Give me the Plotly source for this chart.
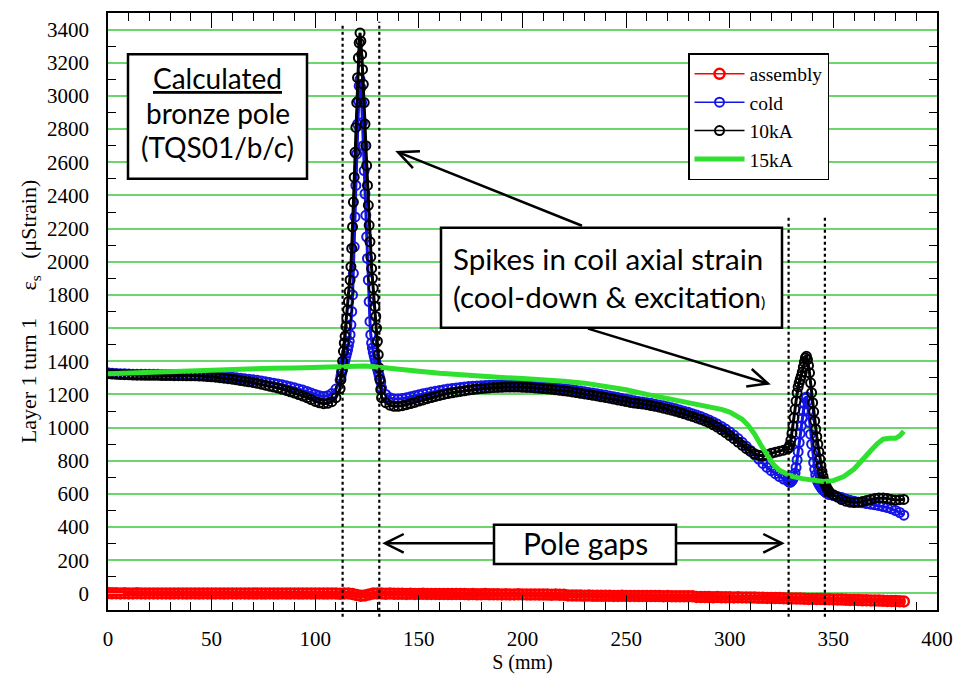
import math
import plotly.graph_objects as go

# ---------------- data ----------------
# shared sample positions (mm) for "cold" and "10kA", split in segments
S_A = [0, 2, 4, 6, 8, 10, 12, 14, 16, 18, 20, 22, 24, 26, 28, 30, 32, 34, 36, 38,
       40, 42, 44, 46, 48, 50, 52, 54, 56, 58, 60, 62, 64, 66, 68, 70, 72, 74, 76, 78,
       80, 82, 84, 86, 88, 90, 92, 94, 96, 98, 100, 102, 104, 106, 108, 110, 112]
K10_A = [1325, 1323, 1321, 1320, 1319, 1318, 1317, 1316, 1316, 1315, 1315, 1315, 1315, 1314, 1314,
         1314, 1313, 1313, 1313, 1312, 1312, 1312, 1311, 1310, 1308, 1306, 1304, 1301, 1298, 1295,
         1292, 1288, 1284, 1280, 1276, 1272, 1267, 1262, 1256, 1250, 1244, 1238, 1231, 1224, 1216,
         1208, 1199, 1190, 1180, 1169, 1158, 1149, 1144, 1146, 1156, 1180, 1235]
COLD_A = [1330, 1328, 1326, 1325, 1324, 1323, 1322, 1322, 1321, 1321, 1321, 1321, 1321, 1320, 1320,
          1320, 1320, 1320, 1320, 1319, 1319, 1319, 1318, 1317, 1316, 1315, 1313, 1311, 1309, 1306,
          1304, 1301, 1298, 1295, 1292, 1288, 1285, 1281, 1277, 1272, 1268, 1263, 1258, 1252, 1246,
          1240, 1233, 1226, 1218, 1209, 1200, 1192, 1188, 1192, 1205, 1232, 1285]

S_P1 = [112.4, 112.8, 113.2, 113.6, 114.0, 114.4, 114.8, 115.2, 115.6, 116.0,
        116.4, 116.8, 117.2, 117.6, 118.0, 118.4, 118.8, 119.2, 119.6, 120.0,
        120.4, 120.8, 121.2, 121.6, 122.0, 122.4, 122.8, 123.2, 123.6, 124.0,
        124.4, 124.8, 125.2, 125.6, 126.0, 126.4, 126.8, 127.2, 127.6, 128.0,
        128.4, 128.8, 129.2, 129.6, 130.0, 130.4, 130.8, 131.2, 131.6]
K10_P1 = [1290, 1340, 1400, 1460, 1510, 1550, 1610, 1660, 1710, 1760,
          1820, 1890, 1970, 2080, 2210, 2360, 2510, 2660, 2810, 2960,
          3110, 3230, 3320, 3380, 3330, 3250, 3160, 3070, 2960, 2830,
          2700, 2580, 2460, 2340, 2220, 2120, 2030, 1960, 1900, 1840,
          1780, 1730, 1670, 1600, 1520, 1440, 1360, 1290, 1230]
COLD_P1 = [1310, 1330, 1350, 1370, 1390, 1410, 1430, 1450, 1470, 1495,
           1520, 1560, 1620, 1700, 1800, 1930, 2090, 2270, 2460, 2650,
           2830, 2970, 3060, 3100, 3050, 2960, 2840, 2700, 2550, 2410,
           2280, 2150, 2020, 1890, 1760, 1640, 1560, 1510, 1480, 1455,
           1435, 1415, 1395, 1375, 1355, 1335, 1315, 1295, 1275]

S_B = [132, 134, 136, 138, 140, 142, 144, 146, 148, 150, 152, 154, 156, 158, 160, 162, 164, 166,
       168, 170, 172, 174, 176, 178, 180, 182, 184, 186, 188, 190, 192, 194, 196, 198, 200, 202,
       204, 206, 208, 210, 212, 214, 216, 218, 220, 222, 224, 226, 228, 230, 232, 234, 236, 238,
       240, 242, 244, 246, 248, 250, 252, 254, 256, 258, 260, 262, 264, 266, 268, 270, 272, 274,
       276, 278, 280, 282, 284, 286, 288, 290, 292, 294, 296, 298, 300, 302, 304, 306, 308, 310,
       312, 314, 316, 318, 320, 322, 324, 326, 328]
K10_B = [1180, 1150, 1135, 1128, 1128, 1132, 1138, 1145, 1152, 1160,
         1167, 1174, 1181, 1188, 1194, 1200, 1205, 1210, 1214, 1218,
         1222, 1226, 1229, 1232, 1235, 1237, 1239, 1241, 1242, 1243,
         1244, 1244, 1244, 1244, 1243, 1242, 1241, 1239, 1237, 1235,
         1233, 1231, 1228, 1225, 1222, 1219, 1215, 1211, 1207, 1203,
         1199, 1195, 1191, 1186, 1182, 1177, 1172, 1167, 1162, 1157,
         1152, 1148, 1145, 1142, 1138, 1133, 1128, 1123, 1117, 1111,
         1105, 1098, 1091, 1083, 1075, 1067, 1058, 1050, 1040, 1030,
         1017, 1003, 987, 970, 952, 933, 913, 893, 873, 856,
         842, 833, 830, 836, 845, 852, 858, 864, 872]
COLD_B = [1240, 1200, 1180, 1172, 1172, 1175, 1180, 1186, 1192, 1198,
          1204, 1209, 1214, 1219, 1224, 1228, 1232, 1236, 1239, 1242,
          1245, 1247, 1249, 1251, 1253, 1254, 1255, 1256, 1257, 1257,
          1257, 1257, 1257, 1256, 1255, 1254, 1253, 1251, 1249, 1247,
          1245, 1243, 1240, 1237, 1234, 1231, 1228, 1224, 1220, 1216,
          1212, 1208, 1204, 1200, 1196, 1191, 1186, 1181, 1176, 1171,
          1166, 1162, 1158, 1154, 1150, 1146, 1141, 1136, 1131, 1125,
          1119, 1113, 1106, 1099, 1092, 1084, 1076, 1067, 1057, 1046,
          1034, 1021, 1007, 991, 974, 955, 934, 911, 887, 862,
          836, 810, 784, 760, 740, 722, 705, 690, 678]

S_P2 = [328.5, 329.0, 329.5, 330.0, 330.5, 331.0, 331.5, 332.0, 332.5, 333.0,
        333.5, 334.0, 334.5, 335.0, 335.5, 336.0, 336.5, 337.0, 337.5, 338.0,
        338.5, 339.0, 339.5, 340.0, 340.5, 341.0, 341.5, 342.0, 342.5, 343.0,
        343.5, 344.0, 344.5, 345.0, 345.5, 346.0, 346.5, 347.0, 347.5]
K10_P2 = [880, 895, 925, 965, 1010, 1060, 1110, 1160, 1210, 1245,
          1270, 1290, 1310, 1335, 1365, 1395, 1420, 1430, 1410, 1375,
          1330, 1270, 1210, 1150, 1095, 1040, 990, 945, 900, 855,
          810, 770, 735, 705, 680, 660, 645, 632, 622]
COLD_P2 = [672, 670, 672, 680, 690, 705, 725, 760, 805, 855,
           910, 965, 1010, 1055, 1100, 1145, 1175, 1185, 1160, 1100,
           1030, 960, 900, 840, 790, 748, 715, 690, 672, 660,
           650, 640, 632, 624, 618, 613, 608, 604, 600]

S_C = [348, 350, 352, 354, 356, 358, 360, 362, 364, 366, 368, 370, 372, 374, 376, 378, 380, 382, 384]
K10_C = [612, 595, 580, 566, 556, 550, 548, 550, 554, 560, 566, 572, 576, 576, 572, 566, 564, 565, 567]
COLD_C = [596, 590, 585, 578, 570, 562, 556, 550, 546, 542, 538, 534, 530, 524, 518, 510, 500, 488, 472]

# 15kA (line only)
S_15 = [0, 10, 20, 30, 40, 50, 60, 70, 80, 90, 100, 110, 118, 124, 130, 140, 150, 160, 170, 180,
        190, 200, 210, 220, 230, 240, 250, 260, 270, 280, 290, 296, 300, 303, 306, 309, 312, 315,
        318, 321, 324, 327, 330, 335, 340, 345, 350, 355, 360, 364, 368, 371, 374, 377, 380, 382, 384]
K15 = [1325, 1330, 1335, 1340, 1345, 1350, 1352, 1355, 1358, 1360, 1363, 1367, 1372, 1372, 1365,
       1350, 1340, 1328, 1318, 1310, 1302, 1296, 1290, 1280, 1268, 1250, 1228, 1200, 1175, 1150,
       1128, 1110, 1093, 1075, 1050, 1012, 960, 895, 830, 778, 742, 720, 706, 692, 684, 675, 680,
       705, 750, 800, 860, 900, 930, 935, 935, 950, 978]

# assembly
S_ASM = [0, 2, 4, 6, 8, 10, 12, 14, 16, 18, 20,
         22, 24, 26, 28, 30, 32, 34, 36, 38, 40,
         42, 44, 46, 48, 50, 52, 54, 56, 58, 60,
         62, 64, 66, 68, 70, 72, 74, 76, 78, 80,
         82, 84, 86, 88, 90, 92, 94, 96, 98, 100,
         102, 104, 106, 108, 110, 112, 114, 116, 118, 120,
         122, 124, 126, 128, 130, 132, 134, 136, 138, 140,
         142, 144, 146, 148, 150, 152, 154, 156, 158, 160,
         162, 164, 166, 168, 170, 172, 174, 176, 178, 180,
         182, 184, 186, 188, 190, 192, 194, 196, 198, 200,
         202, 204, 206, 208, 210, 212, 214, 216, 218, 220,
         222, 224, 226, 228, 230, 232, 234, 236, 238, 240,
         242, 244, 246, 248, 250, 252, 254, 256, 258, 260,
         262, 264, 266, 268, 270, 272, 274, 276, 278, 280,
         282, 284, 286, 288, 290, 292, 294, 296, 298, 300,
         302, 304, 306, 308, 310, 312, 314, 316, 318, 320,
         322, 324, 326, 328, 330, 332, 334, 336, 338, 340,
         342, 344, 346, 348, 350, 352, 354, 356, 358, 360,
         362, 364, 366, 368, 370, 372, 374, 376, 378, 380,
         382, 384]
ASM = [2, 1, 1, 0, 1, 0, 0, 1, 0, 0, 0,
       0, 0, 0, 0, -1, 0, 0, 0, -1, 0,
       0, -1, 0, 0, -1, 0, 0, -1, 0, 0,
       -1, 0, 0, -1, 0, 0, -1, -1, 0, -1,
       -1, 0, -1, -1, 0, -1, -1, 0, -1, -1,
       0, -1, -1, 0, -1, -2, -1, 0, -4, -10,
       -14, -12, -6, -1, 0, -1, -2, -1, -2, -2,
       -2, -3, -2, -3, -3, -2, -3, -3, -3, -4,
       -3, -4, -4, -3, -4, -4, -5, -4, -5, -5,
       -4, -5, -5, -5, -6, -5, -6, -6, -5, -6,
       -6, -7, -6, -7, -7, -7, -8, -7, -8, -8,
       -12, -13, -13, -13, -14, -13, -14, -14, -14, -14,
       -14, -15, -15, -14, -15, -15, -15, -16, -15, -16,
       -16, -16, -16, -17, -16, -17, -17, -17, -17, -17,
       -17, -21, -22, -22, -22, -23, -22, -23, -23, -23,
       -24, -23, -24, -24, -25, -25, -26, -26, -27, -27,
       -28, -28, -29, -30, -30, -31, -31, -32, -33, -33,
       -34, -34, -35, -35, -36, -37, -37, -38, -39, -39,
       -40, -41, -41, -42, -43, -43, -44, -45, -46, -46,
       -47, -48]

POLE_EDGES = [113.2, 130.9, 328.4, 345.9]
X_TICKS = [0, 50, 100, 150, 200, 250, 300, 350, 400]
Y_TICKS = list(range(0, 3401, 200))

S_ALL = S_A + S_P1 + S_B + S_P2 + S_C
K10_ALL = K10_A + K10_P1 + K10_B + K10_P2 + K10_C
COLD_ALL = COLD_A + COLD_P1 + COLD_B + COLD_P2 + COLD_C

# ---------------- layout helpers ----------------
W, H = 975, 676
L, R, T, B = 108, 937, 11, 620


def px(x):
    return (x - L) / (R - L)


def py(y):
    return (B - y) / (B - T)


SERIF = "Liberation Serif"
SANS = "Lato"
GRID = "#6cd66c"
RED, BLUE, BLACK, GREEN = "#ff0000", "#1414e6", "#000000", "#2fe02f"

fig = go.Figure()


def series(xs, ys, name, color, band, msize, mlw):
    # thick under-line that fills the dense marker band (no legend entry)
    fig.add_trace(go.Scatter(x=xs, y=ys, mode="lines", showlegend=False, hoverinfo="skip",
                             line=dict(color=color, width=band)))
    fig.add_trace(go.Scatter(x=xs, y=ys, name=name, mode="lines+markers",
                             line=dict(color=color, width=1.5),
                             marker=dict(symbol="circle-open", size=msize, color=color,
                                         line=dict(width=mlw)),
                             legendgroup=name))

series(S_ASM, ASM, "assembly", RED, 6, 10, 2.5)
series(S_ALL, COLD_ALL, "cold", BLUE, 3, 9, 2)
series(S_ALL, K10_ALL, "10kA", BLACK, 3, 9, 2)
fig.add_trace(go.Scatter(x=S_15, y=K15, name="15kA", mode="lines",
                         line=dict(color=GREEN, width=5), legendgroup="15kA"))

shapes = []
# pole-gap dotted lines
tops = [22, 20, 218, 218]
for xe, tp in zip(POLE_EDGES, tops):
    shapes.append(dict(type="line", xref="x", yref="paper", x0=xe, x1=xe,
                       y0=py(627), y1=py(tp), line=dict(color="black", width=2.2, dash="dot")))


def box(x0, y0, x1, y1):
    return dict(type="rect", xref="paper", yref="paper", x0=px(x0), x1=px(x1),
                y0=py(y1), y1=py(y0), line=dict(color="black", width=2.5),
                fillcolor="white", layer="above")

shapes += [box(128, 53, 307, 180), box(441, 230, 782, 332), box(494, 533, 676, 573)]


def arrow(xt, yt, xh, yh, arm=21, half=27):
    ang = math.atan2(yt - yh, xt - xh)
    a1 = (xh + arm * math.cos(ang + math.radians(half)), yh + arm * math.sin(ang + math.radians(half)))
    a2 = (xh + arm * math.cos(ang - math.radians(half)), yh + arm * math.sin(ang - math.radians(half)))
    return [dict(type="path", xref="paper", yref="paper",
                 path=f"M{px(xt)},{py(yt)} L{px(xh)},{py(yh)}",
                 line=dict(color="black", width=2.5)),
            dict(type="path", xref="paper", yref="paper",
                 path=f"M{px(a1[0])},{py(a1[1])} L{px(xh)},{py(yh)} L{px(a2[0])},{py(a2[1])}",
                 line=dict(color="black", width=2.5))]

shapes += arrow(582, 228, 398, 153, arm=22, half=25)
shapes += arrow(588, 333, 768, 389, arm=22, half=25)
shapes += arrow(494, 552, 385, 552)
shapes += arrow(676, 552, 782, 552)

ann = []


def txt(x, y, s, size, anchor="center"):
    ann.append(dict(text=s, xref="paper", yref="paper", x=px(x), y=py(y),
                    xanchor=anchor, yanchor="middle", showarrow=False,
                    font=dict(family=SANS, size=size, color="black")))

txt(217.5, 77, "<u>Calculated</u>", 28)
txt(217.5, 113, "bronze pole", 28)
txt(217.5, 148, "(TQS01/b/c)", 28)
txt(451, 261, "Spikes in coil axial strain", 29.5, "left")
txt(451, 300, "(cool-down &amp; excitation<span style='font-size:16px'>)</span>", 29.5, "left")
txt(585, 552, "Pole gaps", 30)

fig.update_layout(
    width=W, height=H,
    margin=dict(l=L, r=W - R, t=T, b=H - B, pad=0),
    paper_bgcolor="white", plot_bgcolor="white",
    showlegend=True,
    legend=dict(x=px(688), y=py(52), xanchor="left", yanchor="top",
                bgcolor="white", bordercolor="black", borderwidth=1.5,
                font=dict(family=SERIF, size=19.5, color="black"),
                tracegroupgap=0, itemwidth=50),
    shapes=shapes, annotations=ann,
    xaxis=dict(range=[0, 400], tickvals=X_TICKS, showgrid=False, zeroline=False,
               showline=True, linecolor="black", linewidth=1.5, mirror="ticks",
               ticks="inside", ticklen=15, tickwidth=1.3, tickcolor="black",
               minor=dict(ticks="inside", ticklen=8, dtick=10, tickwidth=1.2, tickcolor="black"),
               tickfont=dict(family=SERIF, size=21, color="black"),
               ticklabelstandoff=9,
               title=dict(text="S (mm)", font=dict(family=SERIF, size=20, color="black"),
                          standoff=0)),
    yaxis=dict(range=[-100, 3500], tickvals=Y_TICKS, showgrid=True, gridcolor=GRID,
               gridwidth=1.5, zeroline=False,
               showline=True, linecolor="black", linewidth=1.5, mirror="ticks",
               ticks="inside", ticklen=15, tickwidth=1.3, tickcolor=GRID,
               minor=dict(ticks="inside", ticklen=8, dtick=100, tickwidth=1.2, tickcolor="black"),
               tickfont=dict(family=SERIF, size=21, color="black"),
               ticklabelstandoff=13,
               title=dict(text="Layer 1 turn 1\u00a0\u00a0\u00a0\u00a0 \u03b5<sub>s</sub>\u00a0\u00a0 (\u03bcStrain)",
                          font=dict(family=SERIF, size=22, color="black"), standoff=4)),
)

fig.write_html("out.html")
